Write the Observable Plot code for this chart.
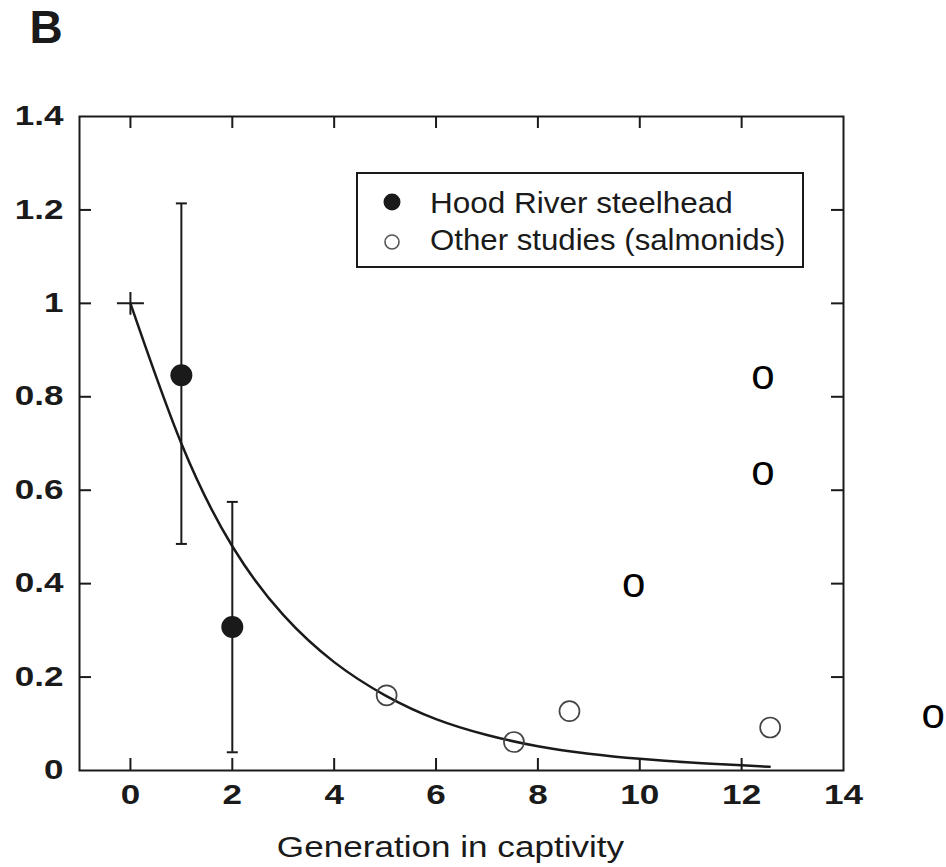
<!DOCTYPE html>
<html>
<head>
<meta charset="utf-8">
<script src="https://cdn.jsdelivr.net/npm/d3@7"></script>
<script src="https://cdn.jsdelivr.net/npm/@observablehq/plot@0.6"></script>
<style>
  body { margin: 0; background: #fff; }
  #wrap { position: relative; width: 946px; height: 867px; overflow: hidden; }
  #wrap svg { position: absolute; left: 0; top: 0; }
</style>
</head>
<body>
<div id="wrap"></div>
<script>
// ---------- data ----------
const panelLetter = "B";
const xLabel = "Generation in captivity";
const xTicks = [0, 2, 4, 6, 8, 10, 12, 14];
const xInnerTicks = [0, 2, 4, 6, 8, 10, 12];
const yTicks = [0, 0.2, 0.4, 0.6, 0.8, 1, 1.2, 1.4];
const yTickLabels = ["0", "0.2", "0.4", "0.6", "0.8", "1", "1.2", "1.4"];
const yInnerTicks = [0.2, 0.4, 0.6, 0.8, 1, 1.2];

// Hood River steelhead (filled) with error bars
const hoodGen = [1, 2];
const hoodVal = [0.846, 0.307];
const hoodLow = [0.485, 0.039];
const hoodHigh = [1.214, 0.575];

// Other studies (salmonids) (open)
const otherGen = [5.03, 7.53, 8.62, 12.56];
const otherVal = [0.161, 0.061, 0.127, 0.092];

// starting point (cross)
const startGen = [0];
const startVal = [1.0];

// fitted curve
const curveGen = [0, 1, 2, 3, 4, 5, 6, 7, 8, 9, 10, 11, 12, 12.55];
const curveVal = [1.0, 0.70, 0.48, 0.333, 0.232, 0.161, 0.110, 0.076, 0.052, 0.036, 0.025, 0.017, 0.011, 0.008];

// stray "o" labels in the picture
const strayGen = [12.42, 12.42, 9.88, 15.76];
const strayVal = [0.842, 0.636, 0.396, 0.116];
const strayText = ["o", "o", "o", "o"];

const legendLabels = ["Hood River steelhead", "Other studies (salmonids)"];

// ---------- build tables ----------
const hood = hoodGen.map((g, i) => ({g, v: hoodVal[i], lo: hoodLow[i], hi: hoodHigh[i]}));
const other = otherGen.map((g, i) => ({g, v: otherVal[i]}));
const start = startGen.map((g, i) => ({g, v: startVal[i]}));
const curve = curveGen.map((g, i) => ({g, v: curveVal[i]}));
const stray = strayGen.map((g, i) => ({g, v: strayVal[i], t: strayText[i]}));

const W = 946, H = 867;
const mL = 79, mR = 103, mT = 116, mB = 97;
const fw = W - mL - mR, fh = H - mT - mB;
const tickLen = 12;
const ink = "#1a1a1a";
const FONT = "Liberation Sans, Arial, Helvetica, sans-serif";

const capSymbol = {draw(ctx, size) { const r = Math.sqrt(size / Math.PI); ctx.moveTo(-r, 0); ctx.lineTo(r, 0); }};
const plusSymbol = {draw(ctx, size) { const r = Math.sqrt(size / Math.PI); ctx.moveTo(-r, 0); ctx.lineTo(r, 0); ctx.moveTo(0, -r * 0.85); ctx.lineTo(0, r * 0.85); }};

const chart = Plot.plot({
  width: W, height: H,
  marginLeft: mL, marginRight: mR, marginTop: mT, marginBottom: mB,
  style: {fontFamily: FONT, color: ink, background: "#fff"},
  x: {domain: [-1, 14], axis: null},
  y: {domain: [0, 1.4], axis: null},
  marks: [
    Plot.frame({stroke: ink, strokeWidth: 2}),
    // inward ticks
    Plot.tickX(xInnerTicks, {x: d => d, insetTop: fh - tickLen, stroke: ink, strokeWidth: 2}),
    Plot.tickX(xInnerTicks, {x: d => d, insetBottom: fh - tickLen, stroke: ink, strokeWidth: 2}),
    Plot.tickY(yInnerTicks, {y: d => d, insetRight: fw - tickLen, stroke: ink, strokeWidth: 2}),
    Plot.tickY(yInnerTicks, {y: d => d, insetLeft: fw - tickLen, stroke: ink, strokeWidth: 2}),
    // tick labels
    Plot.axisX({ticks: xTicks, tickSize: 0, tickPadding: 14, label: null, fontSize: 27, fontWeight: "bold", fontFamily: FONT, fill: ink}),
    Plot.axisY({ticks: yTicks, tickFormat: d => yTickLabels[yTicks.indexOf(d)], tickSize: 0, tickPadding: 16, label: null, fontSize: 27, fontWeight: "bold", fontFamily: FONT, fill: ink}),
    // axis title
    Plot.text([xLabel], {frameAnchor: "bottom", text: d => d, dx: -11, dy: 65, lineAnchor: "top", fontSize: 30, fontFamily: FONT, fill: ink}),
    // panel letter
    Plot.text([panelLetter], {frameAnchor: "top-left", text: d => d, dx: -50, dy: -106, textAnchor: "start", lineAnchor: "top", fontSize: 46, fontWeight: "bold", fontFamily: FONT, fill: ink}),
    // fitted curve
    Plot.line(curve, {x: "g", y: "v", curve: "natural", stroke: ink, strokeWidth: 2.5}),
    // error bars
    Plot.ruleX(hood, {x: "g", y1: "lo", y2: "hi", stroke: ink, strokeWidth: 2}),
    Plot.dot(hood, {x: "g", y: "hi", symbol: capSymbol, r: 5.5, fill: "none", stroke: ink, strokeWidth: 2}),
    Plot.dot(hood, {x: "g", y: "lo", symbol: capSymbol, r: 5.5, fill: "none", stroke: ink, strokeWidth: 2}),
    // starting cross
    Plot.dot(start, {x: "g", y: "v", symbol: plusSymbol, r: 13.5, fill: "none", stroke: ink, strokeWidth: 2}),
    // points
    Plot.dot(hood, {x: "g", y: "v", r: 11, fill: ink, stroke: "none"}),
    Plot.dot(other, {x: "g", y: "v", r: 10, fill: "none", stroke: "#444", strokeWidth: 1.7}),
    // stray labels
    Plot.text(stray, {x: "g", y: "v", text: "t", fontSize: 42, fontFamily: FONT, fill: "#000", dy: -2})
  ]
});

const wrap = document.getElementById("wrap");
wrap.appendChild(chart);

// legend (drawn with d3 over the plot area)
const leg = d3.select(wrap).append("svg")
  .attr("width", W).attr("height", H)
  .style("pointer-events", "none");
leg.append("rect").attr("x", 357).attr("y", 173).attr("width", 446).attr("height", 94)
  .attr("fill", "#fff").attr("stroke", ink).attr("stroke-width", 2);
leg.append("circle").attr("cx", 392).attr("cy", 202).attr("r", 8.5).attr("fill", ink);
leg.append("circle").attr("cx", 392).attr("cy", 242).attr("r", 7).attr("fill", "none").attr("stroke", "#555").attr("stroke-width", 1.6);
const lt1 = leg.append("text").attr("x", 430).attr("y", 213).text(legendLabels[0])
  .attr("font-family", FONT).attr("font-size", 30).attr("fill", ink);
const lt2 = leg.append("text").attr("x", 430).attr("y", 250).text(legendLabels[1])
  .attr("font-family", FONT).attr("font-size", 30).attr("fill", ink);

function stretchEl(t, k) {
  const w = t.getComputedTextLength();
  if (!(w > 0)) return;
  t.setAttribute("textLength", (w * k).toFixed(1));
  t.setAttribute("lengthAdjust", "spacingAndGlyphs");
}
chart.querySelectorAll('g[aria-label="x-axis tick label"] text, g[aria-label="y-axis tick label"] text')
  .forEach(t => stretchEl(t, 1.3));
chart.querySelectorAll("text").forEach(t => {
  if (t.textContent === xLabel) stretchEl(t, 1.17);
});
stretchEl(lt1.node(), 1.05);
stretchEl(lt2.node(), 1.04);
</script>
</body>
</html>
